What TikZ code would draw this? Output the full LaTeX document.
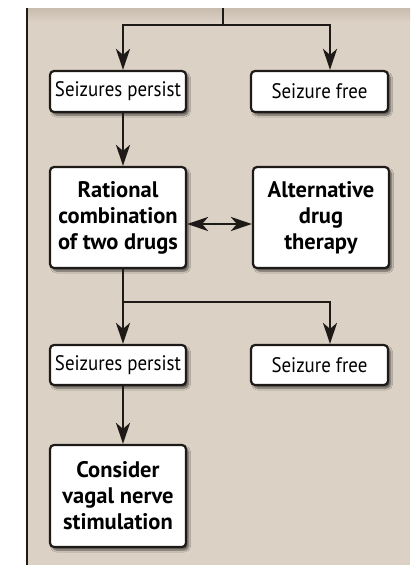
\documentclass[tikz,border=0pt]{standalone}
\usepackage{fontspec}
\setmainfont{PT Sans}
\newfontfamily\rfont{PT Sans}[FakeStretch=0.9]
\usetikzlibrary{arrows.meta,shadows.blur}
\definecolor{beige}{RGB}{219,209,196}
\definecolor{beigedark}{RGB}{200,188,174}
\definecolor{ink}{RGB}{30,26,24}
\tikzset{
  box/.style={draw=ink,line width=2.2pt,fill=white,rounded corners=4pt,
    minimum width=136pt,align=center,inner sep=2pt,
    blur shadow={shadow xshift=2.5pt,shadow yshift=-3pt,shadow blur steps=6,shadow opacity=60}},
  thin/.style={box,minimum height=41pt,font=\rfont\fontsize{21}{23}\selectfont},
  thick/.style={box,minimum height=101pt,font=\fontsize{22.5}{26}\selectfont\bfseries},
  conn/.style={draw=ink,line width=2.6pt},
  tip/.tip={Stealth[length=21pt,width=14pt,inset=6pt]},
  arr/.style={conn,-tip},
  arr2/.style={conn,tip-tip}
}
\begin{document}
\begin{tikzpicture}[x=1pt,y=-1pt]
\useasboundingbox (0,0) rectangle (410,565);
\fill[white] (0,0) rectangle (410,565);
\fill[beige] (27,8) rectangle (410,565);
\shade[top color=beigedark,bottom color=beige] (27,8) rectangle (410,22);
\draw[ink,line width=1.4pt] (27,8) -- (27,565);
\node[thin] (sp1) at (118,91.5) {Seizures persist};
\node[thin,minimum width=137pt] (sf1) at (319.5,91.5) {Seizure free};
\node[thick] (rc) at (118,217.5) {Rational\\combination\\of two drugs};
\node[thick] (ad) at (321,217.5) {Alternative\\drug\\therapy};
\node[thin,minimum height=40pt] (sp2) at (118,365) {Seizures persist};
\node[thin,minimum height=40pt,minimum width=137pt] (sf2) at (319.5,365) {Seizure free};
\node[thick,minimum height=102pt] (vn) at (118,496) {Consider\\vagal nerve\\stimulation};
\coordinate (top) at (223,8);
\coordinate (j1) at (223,25);
\coordinate (j2) at (123,302);
\draw[conn] (top) -- (j1);
\draw[arr] (j1) -| ([xshift=5pt]sp1.north);
\draw[arr] (j1) -| ([xshift=10.5pt]sf1.north);
\draw[arr] ([xshift=5pt]sp1.south) -- ([xshift=5pt]rc.north);
\draw[arr2] ([yshift=-6.5pt]rc.east) -- ([yshift=-6.5pt]ad.west);
\draw[conn] ([xshift=5pt]rc.south) -- (j2);
\draw[arr] (j2) -- ([xshift=5pt]sp2.north);
\draw[arr] (j2) -| ([xshift=10.5pt]sf2.north);
\draw[arr] ([xshift=5pt]sp2.south) -- ([xshift=5pt]vn.north);
\end{tikzpicture}
\end{document}
